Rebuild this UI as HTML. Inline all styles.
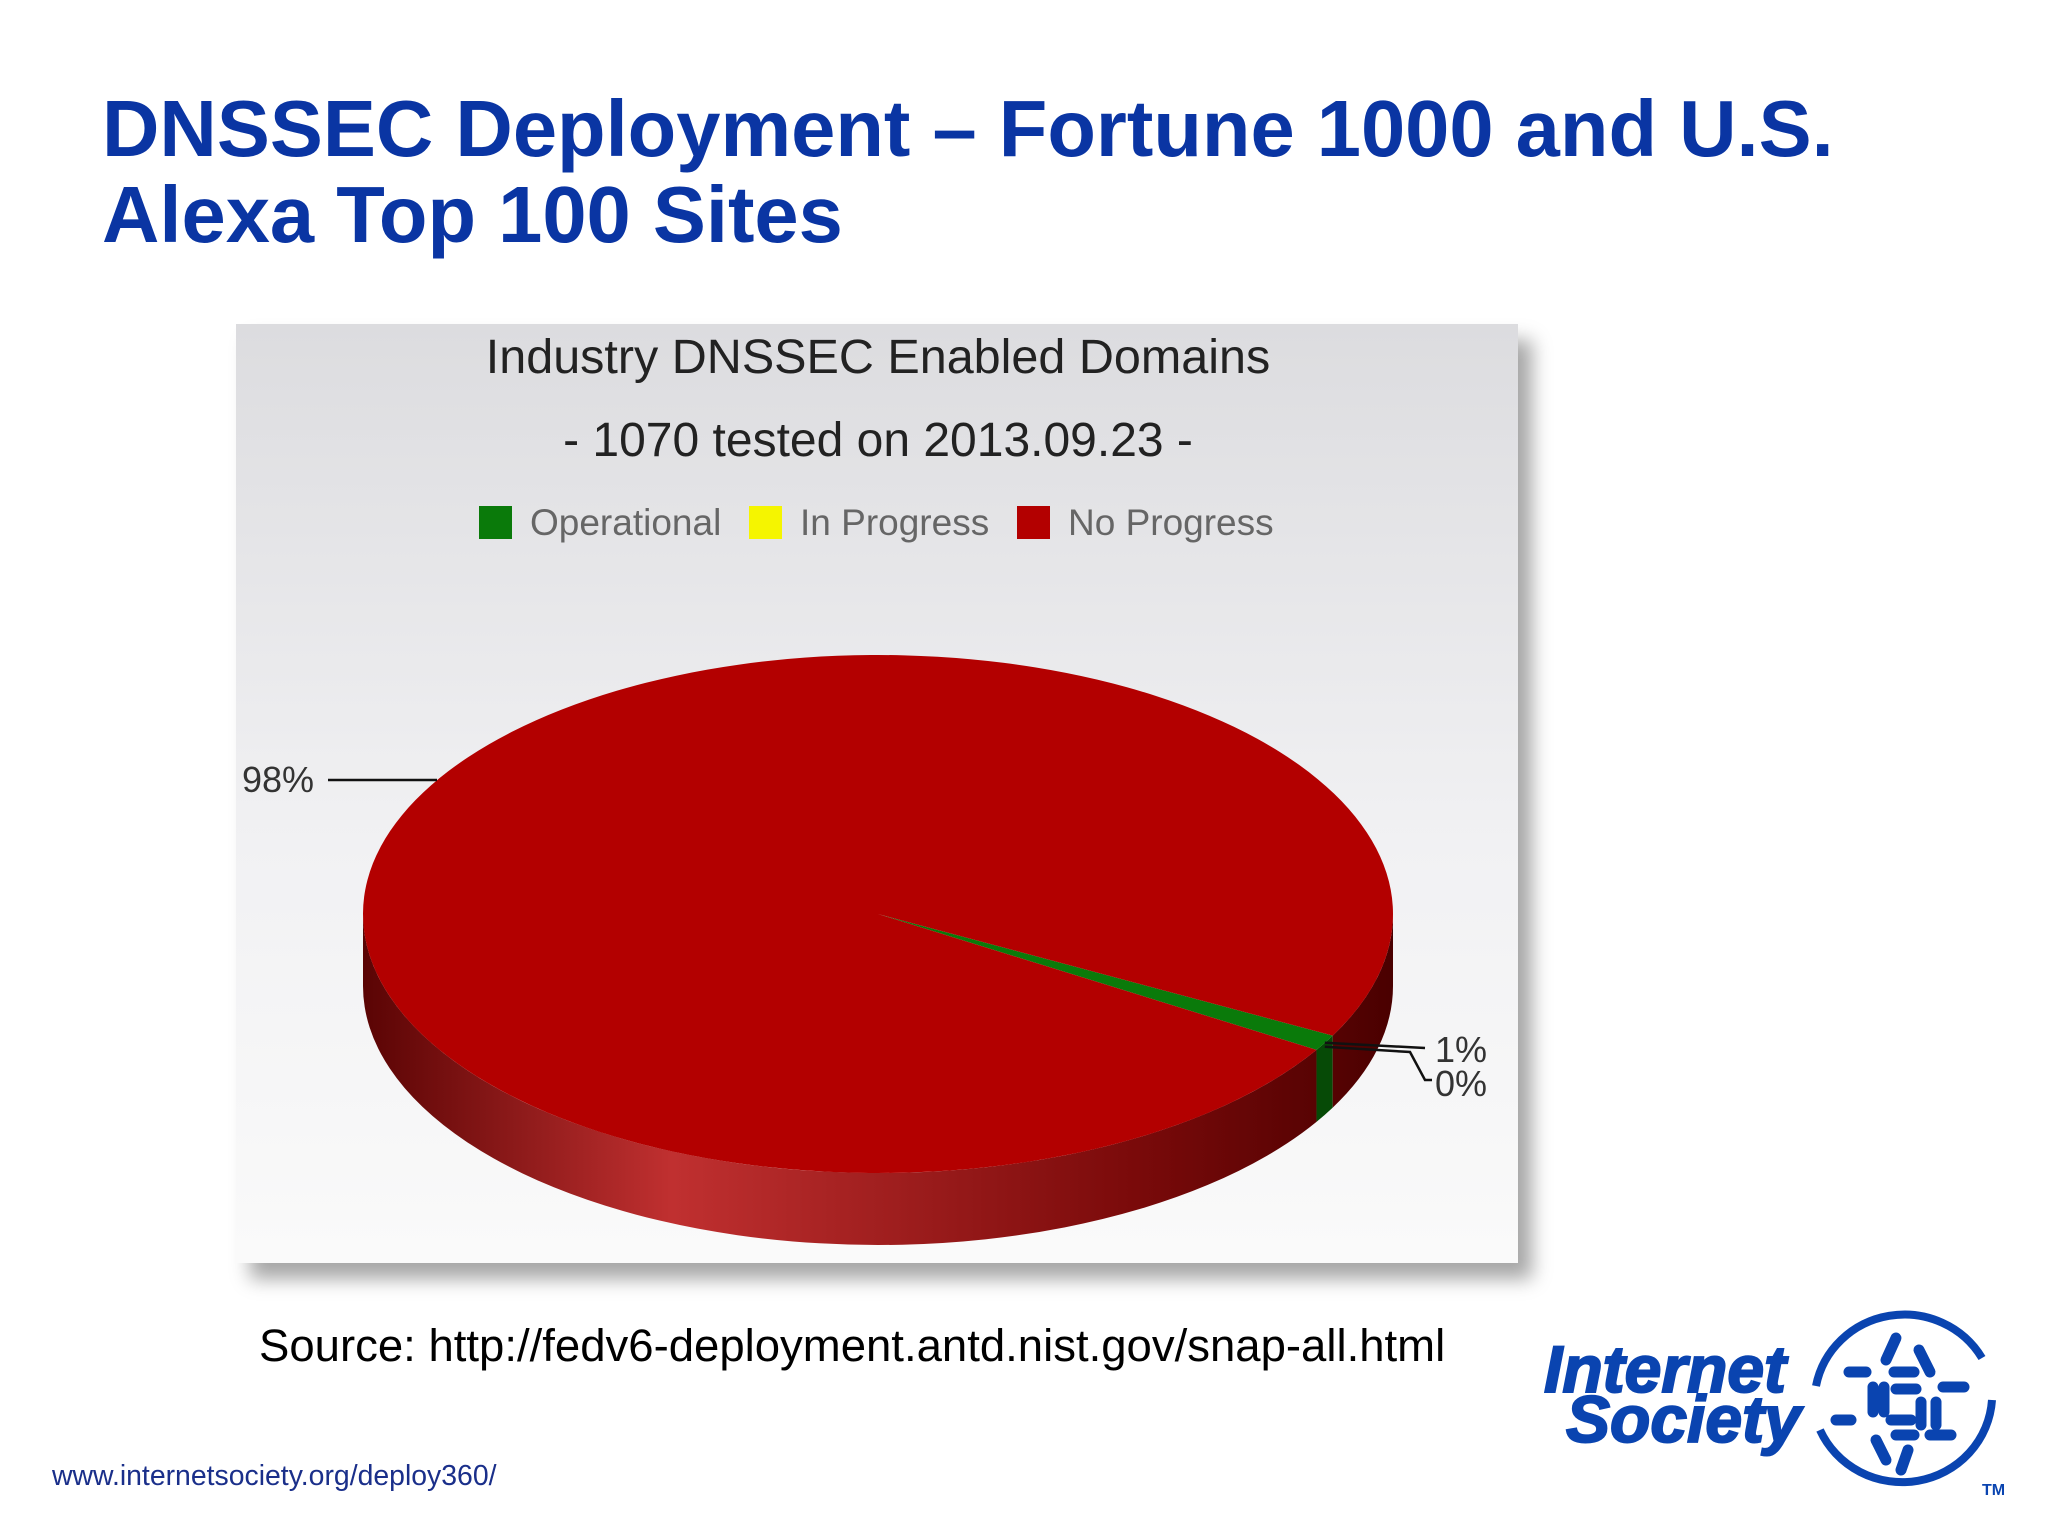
<!DOCTYPE html>
<html><head><meta charset="utf-8">
<style>
html,body{margin:0;padding:0;background:#fff;}
body{width:2048px;height:1536px;position:relative;overflow:hidden;font-family:"Liberation Sans",Arial,sans-serif;}
.title{position:absolute;left:102px;top:86px;font-size:79.5px;font-weight:bold;color:#0a35a3;line-height:86px;margin:0;}
.panel{position:absolute;left:236px;top:324px;width:1282px;height:939px;background:linear-gradient(#dcdcdf,#f1f1f3 55%,#fafafa);box-shadow:14px 16px 18px rgba(0,0,0,0.35);}
.source{position:absolute;left:259px;top:1320px;font-size:45.5px;color:#000;}
.url{position:absolute;left:52px;top:1460px;font-size:28.4px;color:#1a2f8a;}
</style></head><body>
<h1 class="title">DNSSEC Deployment – Fortune 1000 and U.S.<br>Alexa Top 100 Sites</h1>
<div class="panel"></div>
<svg id="chart" width="2048" height="1536" style="position:absolute;left:0;top:0">
<defs>
<linearGradient id="redSide" gradientUnits="userSpaceOnUse" x1="363" x2="1393" y1="0" y2="0">
<stop offset="0" stop-color="#5a0404"/><stop offset="0.3" stop-color="#c03030"/><stop offset="0.75" stop-color="#7a0a0a"/><stop offset="1" stop-color="#4a0000"/>
</linearGradient>
</defs>
<text x="878" y="373" text-anchor="middle" font-size="48.5" fill="#222">Industry DNSSEC Enabled Domains</text>
<text x="878" y="456" text-anchor="middle" font-size="48" fill="#222">- 1070 tested on 2013.09.23 -</text>
<g id="legend"></g>
<g id="pie"></g>
<g id="labels"></g>
</svg>
<div class="source">Source: http://fedv6-deployment.antd.nist.gov/snap-all.html</div>
<div class="url">www.internetsociety.org/deploy360/</div>
<svg width="518" height="230" style="position:absolute;left:1530px;top:1290px">
<text x="14" y="102" font-size="66" font-weight="bold" font-style="italic" fill="#0a44b0" stroke="#0a44b0" stroke-width="2" font-family="Liberation Sans,sans-serif">Internet</text>
<text x="36" y="152" font-size="66" font-weight="bold" font-style="italic" fill="#0a44b0" stroke="#0a44b0" stroke-width="2" font-family="Liberation Sans,sans-serif">Society</text>
<path d="M286 96 A90 88 0 0 1 452 68" fill="none" stroke="#0a44b0" stroke-width="8"/>
<path d="M462 110 A90 88 0 0 1 290 140" fill="none" stroke="#0a44b0" stroke-width="8"/>
<g stroke="#0a44b0" stroke-width="11" stroke-linecap="round" fill="none" transform="translate(16,0)">
<line x1="303" y1="82" x2="320" y2="82"/><line x1="348" y1="82" x2="368" y2="82"/><line x1="397" y1="97" x2="418" y2="97"/>
<line x1="350" y1="99" x2="370" y2="99"/><line x1="345" y1="130" x2="365" y2="130"/><line x1="350" y1="145" x2="368" y2="145"/>
<line x1="290" y1="130" x2="305" y2="130"/><line x1="384" y1="145" x2="405" y2="145"/>
<line x1="327" y1="97" x2="327" y2="122"/><line x1="338" y1="97" x2="338" y2="122"/><line x1="375" y1="112" x2="375" y2="135"/><line x1="390" y1="112" x2="390" y2="135"/>
<line x1="350" y1="48" x2="340" y2="70"/><line x1="373" y1="60" x2="384" y2="82"/><line x1="330" y1="150" x2="340" y2="170"/><line x1="362" y1="160" x2="355" y2="180"/>
</g>
<text x="452" y="205" font-size="16" font-weight="bold" fill="#0a44b0">TM</text>
</svg>
<script>
const categories = ["Operational", "In Progress", "No Progress"];
const values = [1, 0, 98];
const labelText = ["1%", "0%", "98%"];
const colors = ["#0a7a0a", "#f5f500", "#b30000"];
const sideColors = ["#064a06", "#9a9a00", "url(#redSide)"];
const NS = "http://www.w3.org/2000/svg";
const cx = 878, cy = 914, rx = 515, ry = 259, depth = 72, startDeg = 28;
const total = values.reduce((a, b) => a + b, 0);
function pt(a, dy) { return [cx + rx * Math.cos(a), cy + (dy || 0) + ry * Math.sin(a)]; }
function mk(tag, attrs, parent) { const e = document.createElementNS(NS, tag); for (const k in attrs) e.setAttribute(k, attrs[k]); parent.appendChild(e); return e; }
const pie = document.getElementById("pie");
let a = startDeg * Math.PI / 180;
const slices = values.map(v => { const s = a; a += v / total * 2 * Math.PI; return [s, a]; });
slices.forEach((s, i) => {
  for (let k = -1; k <= 1; k++) {
    const lo = Math.max(s[0], k * 2 * Math.PI), hi = Math.min(s[1], k * 2 * Math.PI + Math.PI);
    if (hi <= lo) continue;
    const p1 = pt(lo), p2 = pt(hi), p3 = pt(hi, depth), p4 = pt(lo, depth);
    const d = `M${p1} A${rx} ${ry} 0 0 1 ${p2} L${p3} A${rx} ${ry} 0 0 0 ${p4} Z`;
    const el = mk("path", { d: d, fill: sideColors[i] }, pie);
    
    
  }
});
slices.forEach((s, i) => {
  if (s[1] - s[0] <= 0) return;
  const p1 = pt(s[0]), p2 = pt(s[1]);
  const large = (s[1] - s[0]) > Math.PI ? 1 : 0;
  const el = mk("path", { d: `M${cx},${cy} L${p1} A${rx} ${ry} 0 ${large} 1 ${p2} Z`, fill: colors[i] }, pie);
  
  
});
const lg = document.getElementById("legend");
const lx = [479, 749, 1017], ltx = [530, 800, 1068];
categories.forEach((c, i) => {
  const r = mk("rect", { x: lx[i], y: 506, width: 33, height: 33, fill: colors[i] }, lg);
  
  
  const t = mk("text", { x: ltx[i], y: 535, "font-size": 37, fill: "#666" }, lg);
  t.textContent = c;
  
  
});
const lb = document.getElementById("labels");
const e0 = pt((slices[0][0] + slices[0][1]) / 2);
const lines = [
  `M${e0[0]},${e0[1]} L1425,1048`,
  `M${e0[0]},${e0[1] + 4} L1410,1052 L1425,1080 L1432,1080`,
  `M328,780 L437,780`
];
const tpos = [[1435, 1062], [1435, 1096], [242, 792]];
labelText.forEach((t, i) => {
  const p = mk("path", { d: lines[i], stroke: "#111", "stroke-width": 2.5, fill: "none" }, lb);
  
  
  const tx = mk("text", { x: tpos[i][0], y: tpos[i][1], "font-size": 36, fill: "#333" }, lb);
  tx.textContent = t;
  
  
});
</script>
</body></html>
